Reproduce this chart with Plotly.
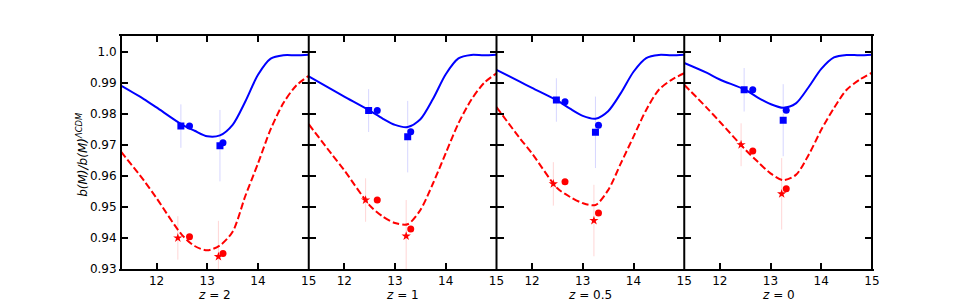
import plotly.graph_objects as go

# ---------------- data ----------------
panel_labels = ["<i>z</i> = 2", "<i>z</i> = 1", "<i>z</i> = 0.5", "<i>z</i> = 0"]

curve_x = [11.3, 11.75, 12.0, 12.5, 12.75, 13.0, 13.25, 13.5, 13.75, 14.0, 14.25, 14.5, 14.75, 15.0]

blue_curves = [
    [0.9890, 0.9847, 0.9820, 0.9765, 0.9745, 0.9727, 0.9730, 0.9764, 0.9839, 0.9925, 0.9977, 0.9988, 0.9988, 0.9990],
    [0.9920, 0.9878, 0.9855, 0.9810, 0.9785, 0.9764, 0.9757, 0.9782, 0.9848, 0.9927, 0.9978, 0.9989, 0.9988, 0.9990],
    [0.9941, 0.9904, 0.9883, 0.9842, 0.9816, 0.9793, 0.9784, 0.9808, 0.9866, 0.9935, 0.9979, 0.9989, 0.9988, 0.9990],
    [0.9963, 0.9931, 0.9910, 0.9877, 0.9852, 0.9831, 0.9819, 0.9833, 0.9885, 0.9944, 0.9981, 0.9989, 0.9988, 0.9990],
]
red_curves = [
    [0.9678, 0.9585, 0.9528, 0.9410, 0.9374, 0.9360, 0.9376, 0.9420, 0.9535, 0.9640, 0.9750, 0.9834, 0.9890, 0.9922],
    [0.9766, 0.9670, 0.9618, 0.9505, 0.9470, 0.9448, 0.9444, 0.9490, 0.9576, 0.9673, 0.9769, 0.9844, 0.9898, 0.9930],
    [0.9821, 0.9723, 0.9672, 0.9560, 0.9532, 0.9512, 0.9506, 0.9554, 0.9640, 0.9726, 0.9812, 0.9877, 0.9909, 0.9930],
    [0.9893, 0.9818, 0.9774, 0.9685, 0.9645, 0.9608, 0.9586, 0.9603, 0.9667, 0.9748, 0.9818, 0.9877, 0.9909, 0.9932],
]

square_x = [12.48, 13.25]
square_y = [[0.9760, 0.9697], [0.9810, 0.9726], [0.9844, 0.9740], [0.9877, 0.9779]]
square_err = [[0.0070, 0.0115], [0.0069, 0.0115], [0.0070, 0.0115], [0.0070, 0.0116]]

star_x = [12.42, 13.22]
star_y = [[0.9400, 0.9340], [0.9522, 0.9406], [0.9574, 0.9456], [0.9700, 0.9542]]
star_err = [[0.0070, 0.0115], [0.0070, 0.0116], [0.0070, 0.0115], [0.0069, 0.0115]]

circle_x = [12.65, 13.31]
blue_circle_y = [[0.9760, 0.9706], [0.9810, 0.9742], [0.9838, 0.9763], [0.9877, 0.9811]]
red_circle_y = [[0.9404, 0.9350], [0.9522, 0.9429], [0.9581, 0.9480], [0.9680, 0.9558]]

y_tickvals = [0.93, 0.94, 0.95, 0.96, 0.97, 0.98, 0.99, 1.0]
y_ticktext = ["0.93", "0.94", "0.95", "0.96", "0.97", "0.98", "0.99", "1.0"]
x_tickvals = [12, 13, 14, 15]
x_ticktext = ["12", "13", "14", "15"]

# ---------------- figure ----------------
BLUE = "#0000ff"
RED = "#ff0000"
FONT = "DejaVu Sans"

fig = go.Figure()
n = len(panel_labels)
for i in range(n):
    xa = "x" if i == 0 else f"x{i+1}"
    ya = "y" if i == 0 else f"y{i+1}"
    fig.add_trace(go.Scatter(
        x=square_x, y=square_y[i], mode="markers", xaxis=xa, yaxis=ya,
        marker=dict(symbol="square", size=7, color=BLUE),
        error_y=dict(type="data", array=square_err[i], color="rgba(120,120,255,0.3)", thickness=1, width=0),
        showlegend=False))
    fig.add_trace(go.Scatter(
        x=star_x, y=star_y[i], mode="markers", xaxis=xa, yaxis=ya,
        marker=dict(symbol="star", size=7, color=RED),
        error_y=dict(type="data", array=star_err[i], color="rgba(255,120,120,0.3)", thickness=1, width=0),
        showlegend=False))
    fig.add_trace(go.Scatter(
        x=circle_x, y=blue_circle_y[i], mode="markers", xaxis=xa, yaxis=ya,
        marker=dict(symbol="circle", size=7, color=BLUE), showlegend=False))
    fig.add_trace(go.Scatter(
        x=circle_x, y=red_circle_y[i], mode="markers", xaxis=xa, yaxis=ya,
        marker=dict(symbol="circle", size=7, color=RED), showlegend=False))
    fig.add_trace(go.Scatter(
        x=curve_x, y=blue_curves[i], mode="lines", xaxis=xa, yaxis=ya,
        line=dict(color=BLUE, width=2, shape="spline", smoothing=0.8), showlegend=False))
    fig.add_trace(go.Scatter(
        x=curve_x, y=red_curves[i], mode="lines", xaxis=xa, yaxis=ya,
        line=dict(color=RED, width=2, dash="7px,3px", shape="spline", smoothing=0.8), showlegend=False))

    axis_common = dict(showline=True, linecolor="black", linewidth=2, mirror="ticks",
                       ticks="inside", tickcolor="black", tickwidth=1.5,
                       showgrid=False, zeroline=False,
                       tickfont=dict(family=FONT, size=12, color="black"))
    xkey = "xaxis" if i == 0 else f"xaxis{i+1}"
    ykey = "yaxis" if i == 0 else f"yaxis{i+1}"
    fig.layout[xkey] = dict(axis_common, domain=[i / n, (i + 1) / n], range=[11.3, 15.0],
                            tickvals=x_tickvals, ticktext=x_ticktext, ticklen=6,
                            anchor=ya)
    # vertical frame lines are drawn once per boundary (below), so the axis line itself is invisible
    fig.layout[ykey] = dict(axis_common, domain=[0, 1], range=[0.93, 1.005],
                            linecolor="rgba(0,0,0,0)",
                            tickvals=y_tickvals, ticktext=y_ticktext, ticklen=7,
                            showticklabels=(i == 0), anchor=xa)
    fig.add_annotation(text=panel_labels[i], xref="paper", yref="paper",
                       x=(i + 0.5) / n, y=-0.11, xanchor="center", yanchor="middle",
                       showarrow=False, font=dict(family=FONT, size=12, color="black"))

for k in range(n + 1):
    fig.add_shape(type="line", xref="paper", yref="paper", x0=k / n, x1=k / n, y0=-0.004, y1=1.004,
                  line=dict(color="black", width=2), layer="above")

fig.add_annotation(text="<i>b(M)/b(M)<sup>ΛCDM</sup></i>", xref="paper", yref="paper",
                   x=-0.052, y=0.49, xanchor="center", yanchor="middle", textangle=-90,
                   showarrow=False, font=dict(family=FONT, size=12, color="black"))

# page body has an 8px margin, so the figure is 8px smaller and offsets shrink by 8px
fig.update_layout(width=961, height=295,
                  margin=dict(l=113, r=96.5, t=28, b=34),
                  paper_bgcolor="white", plot_bgcolor="white")

fig.write_html("out.html")
